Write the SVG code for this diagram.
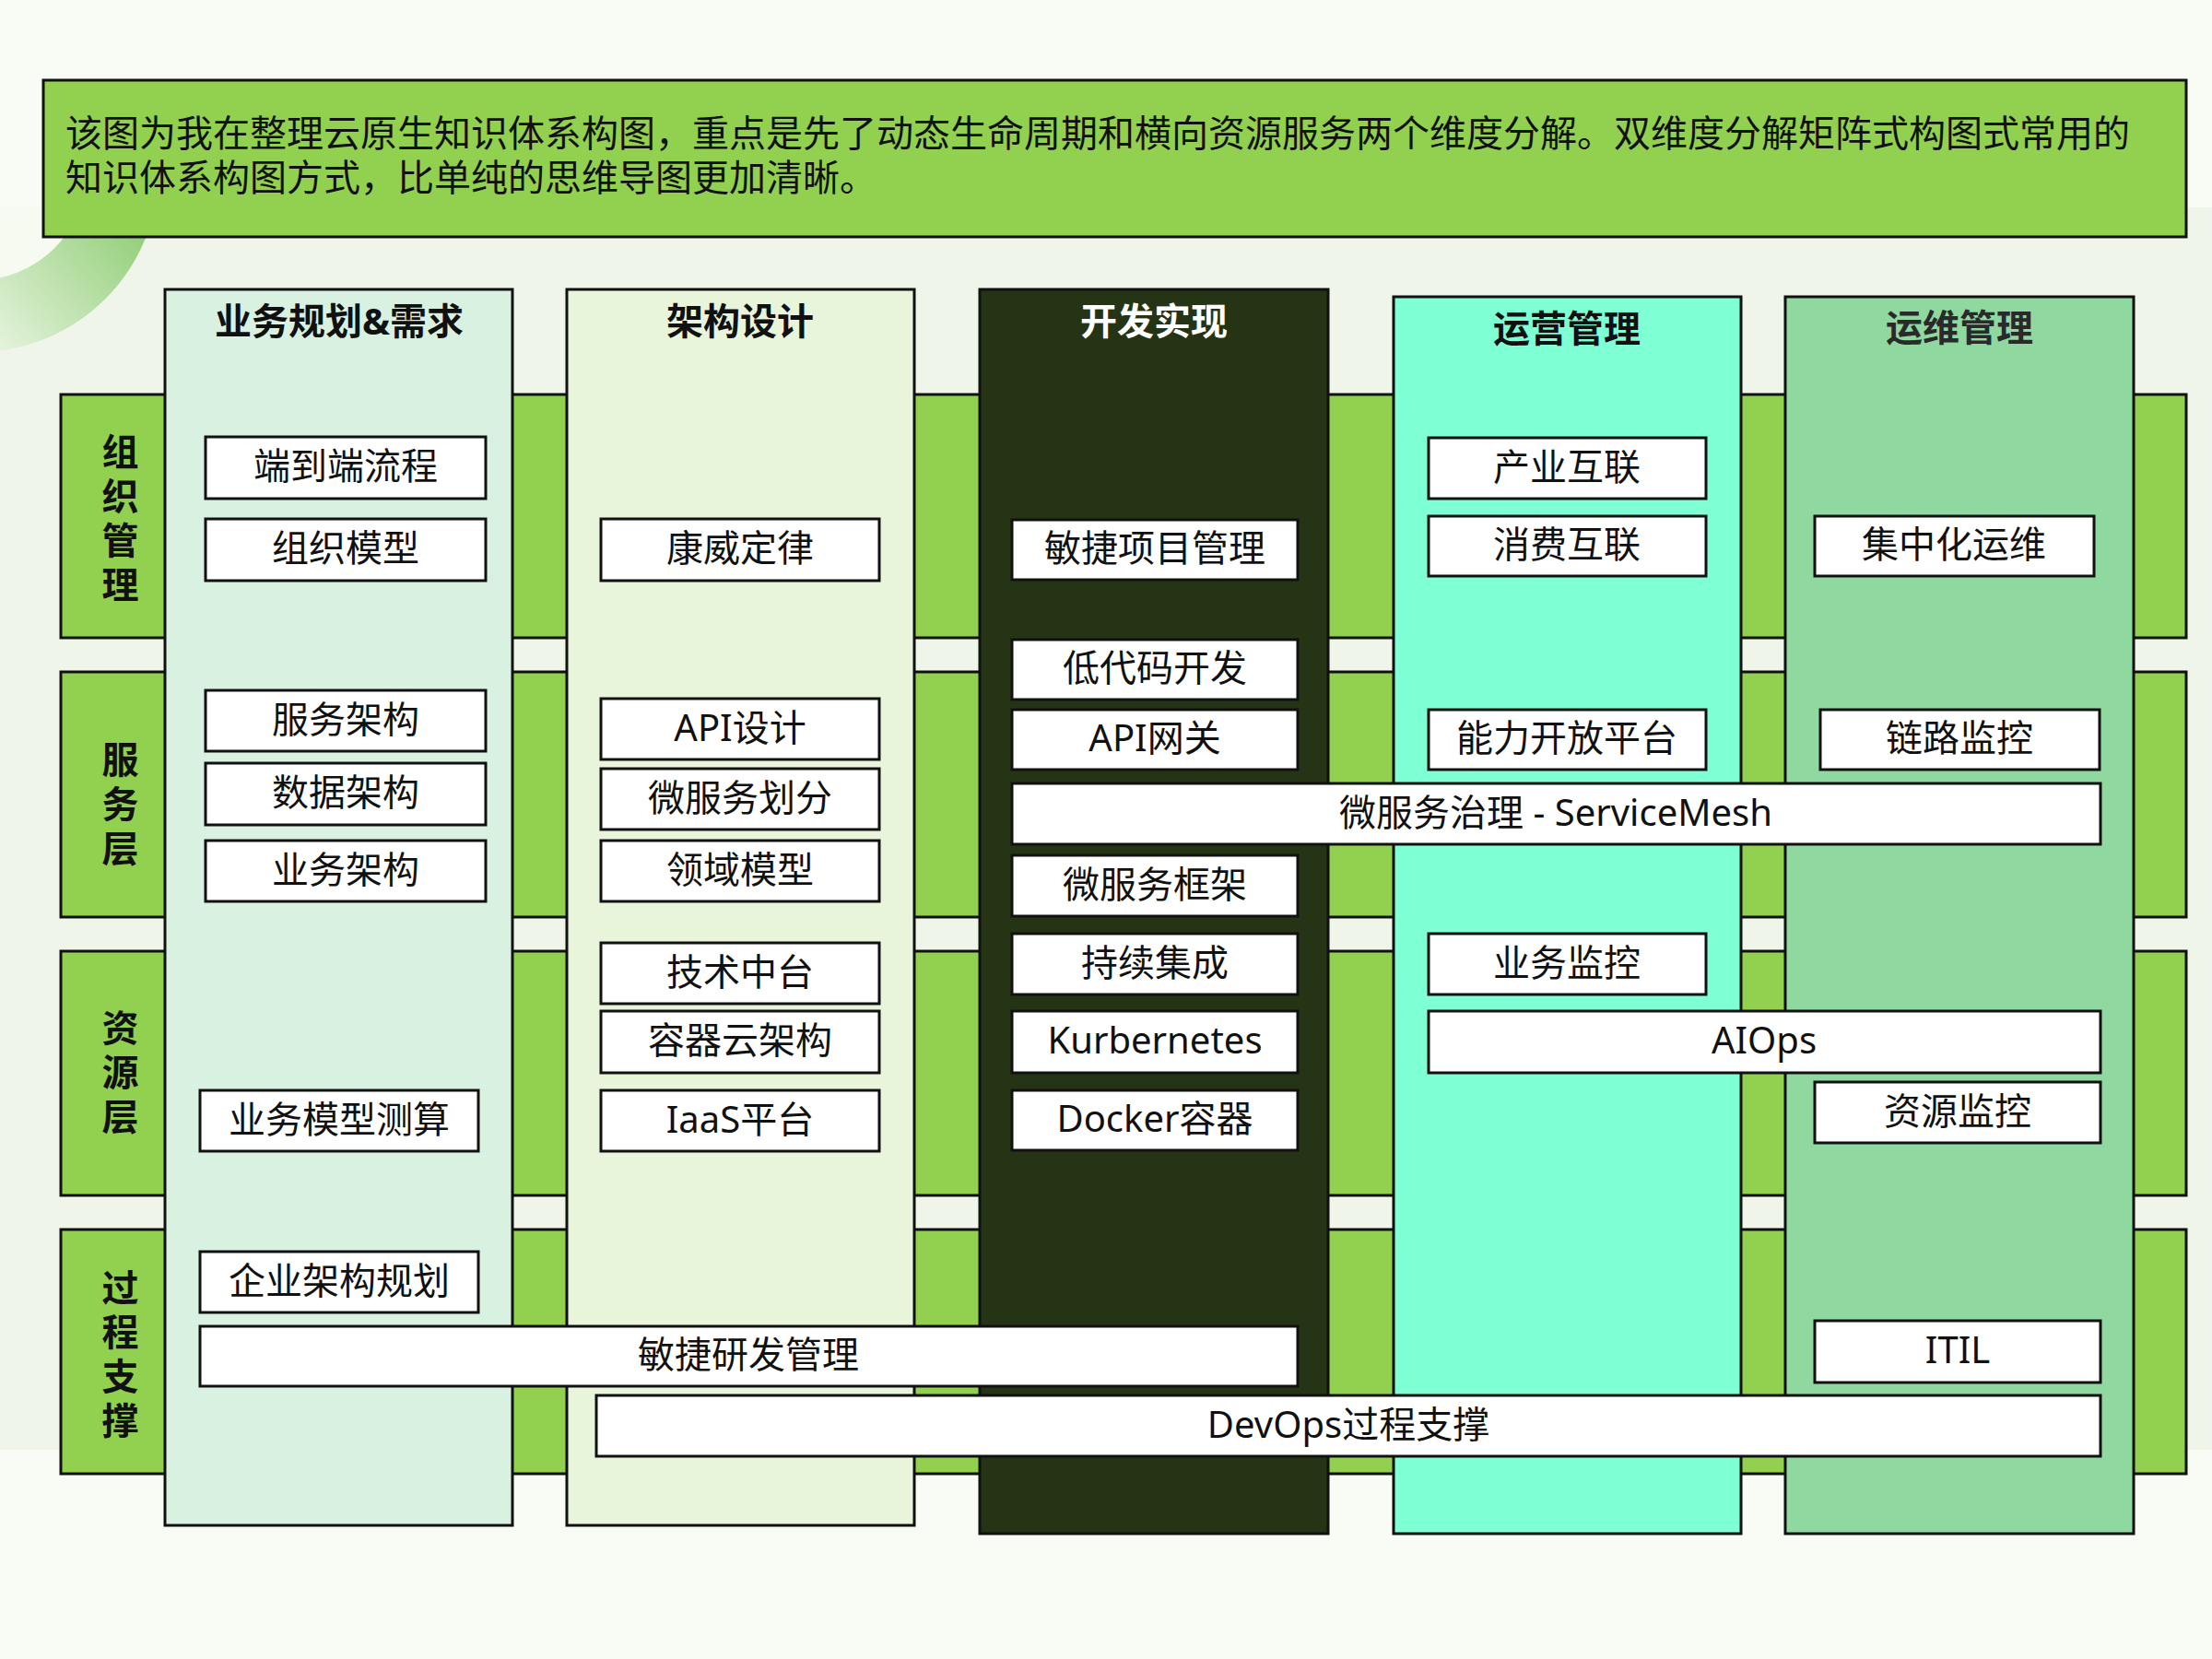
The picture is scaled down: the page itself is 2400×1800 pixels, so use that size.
<svg xmlns="http://www.w3.org/2000/svg" width="2400" height="1800" viewBox="0 0 2400 1800">
<style>
text{font-family:"Noto Sans","Noto Sans CJK SC",sans-serif;}
text.cjk{font-family:"Liberation Sans","Noto Sans CJK SC",sans-serif;}
.row{fill:#92d050;stroke:#111;stroke-width:3;}
.col{stroke:#111;stroke-width:3;}
.box{fill:#ffffff;stroke:#111;stroke-width:3;}
.t{font-size:40px;fill:#111;text-anchor:middle;dominant-baseline:central;}
.h{font-size:40px;font-weight:bold;text-anchor:middle;dominant-baseline:central;}
.lbl{font-size:40px;font-weight:bold;fill:#111;text-anchor:middle;writing-mode:vertical-rl;letter-spacing:8px;}
</style>
<defs>
<linearGradient id="ringGrad" gradientUnits="userSpaceOnUse" x1="170" y1="250" x2="0" y2="400">
<stop offset="0" stop-color="#8fcd74"/>
<stop offset="1" stop-color="#eaf5e3"/>
</linearGradient>
<clipPath id="band"><rect x="0" y="225" width="2400" height="1348"/></clipPath>
</defs>
<!-- background -->
<rect x="0" y="0" width="2400" height="1800" fill="#f9fbf5"/>
<rect x="0" y="225" width="2400" height="1348" fill="#eff6e9"/>
<g clip-path="url(#band)">
<circle cx="-25" cy="185" r="197" fill="url(#ringGrad)"/>
<circle cx="-25" cy="185" r="119" fill="#f6faf1"/>
<ellipse cx="2470" cy="1640" rx="110" ry="80" fill="#e1f0d6"/>
</g>

<g id="banner">
<rect x="47" y="87" width="2325" height="170" fill="#92d050" stroke="#111" stroke-width="3"/>
<text class="cjk" font-size="40" fill="#111" dominant-baseline="central"><tspan x="71" y="145">该图为我在整理云原生知识体系构图，重点是先了动态生命周期和横向资源服务两个维度分解。双维度分解矩阵式构图式常用的</tspan><tspan x="71" y="193">知识体系构图方式，比单纯的思维导图更加清晰。</tspan></text>
</g>

<!-- row bands -->
<g id="row-org">
<rect class="row" x="66" y="428" width="2306" height="264"/>
<text class="lbl" x="129" y="566">组织管理</text>
</g>
<g id="row-service">
<rect class="row" x="66" y="729" width="2306" height="266"/>
<text class="lbl" x="129" y="876">服务层</text>
</g>
<g id="row-resource">
<rect class="row" x="66" y="1032" width="2306" height="265"/>
<text class="lbl" x="129" y="1167">资源层</text>
</g>
<g id="row-process">
<rect class="row" x="66" y="1334" width="2306" height="265"/>
<text class="lbl" x="129" y="1473">过程支撑</text>
</g>

<!-- columns -->
<g id="col-biz">
<rect class="col" x="179" y="314" width="377" height="1341" fill="#d9f1e1"/>
<text class="h" x="368" y="347" fill="#111">业务规划&amp;需求</text>
</g>
<g id="col-arch">
<rect class="col" x="615" y="314" width="377" height="1341" fill="#e8f5db"/>
<text class="h" x="803" y="347" fill="#111">架构设计</text>
</g>
<g id="col-dev">
<rect class="col" x="1063" y="314" width="378" height="1350" fill="#243414"/>
<text class="h" x="1252" y="347" fill="#ffffff">开发实现</text>
</g>
<g id="col-ops">
<rect class="col" x="1512" y="322" width="377" height="1342" fill="#7effd4"/>
<text class="h" x="1700" y="355" fill="#111">运营管理</text>
</g>
<g id="col-devops">
<rect class="col" x="1937" y="322" width="378" height="1342" fill="#8fd9a0"/>
<text class="h" x="2126" y="354" fill="#2a2a2a">运维管理</text>
</g>

<!-- items column 1 -->
<g id="n-e2e"><rect class="box" x="223" y="474" width="304" height="67"/><text class="t" x="375" y="504">端到端流程</text></g>
<g id="n-orgmodel"><rect class="box" x="223" y="563" width="304" height="67"/><text class="t" x="375" y="593">组织模型</text></g>
<g id="n-svcarch"><rect class="box" x="223" y="749" width="304" height="66"/><text class="t" x="375" y="779">服务架构</text></g>
<g id="n-dataarch"><rect class="box" x="223" y="828" width="304" height="67"/><text class="t" x="375" y="858">数据架构</text></g>
<g id="n-bizarch"><rect class="box" x="223" y="912" width="304" height="66"/><text class="t" x="375" y="942">业务架构</text></g>
<g id="n-bizcalc"><rect class="box" x="217" y="1183" width="302" height="66"/><text class="t" x="368" y="1213">业务模型测算</text></g>
<g id="n-eaplan"><rect class="box" x="217" y="1358" width="302" height="66"/><text class="t" x="368" y="1388">企业架构规划</text></g>
<!-- items column 2 -->
<g id="n-conway"><rect class="box" x="652" y="563" width="302" height="67"/><text class="t" x="803" y="593">康威定律</text></g>
<g id="n-apidesign"><rect class="box" x="652" y="758" width="302" height="66"/><text class="t" x="803" y="788">API设计</text></g>
<g id="n-msdiv"><rect class="box" x="652" y="834" width="302" height="66"/><text class="t" x="803" y="864">微服务划分</text></g>
<g id="n-domain"><rect class="box" x="652" y="912" width="302" height="66"/><text class="t" x="803" y="942">领域模型</text></g>
<g id="n-techmid"><rect class="box" x="652" y="1023" width="302" height="66"/><text class="t" x="803" y="1053">技术中台</text></g>
<g id="n-cloudarch"><rect class="box" x="652" y="1097" width="302" height="67"/><text class="t" x="803" y="1127">容器云架构</text></g>
<g id="n-iaas"><rect class="box" x="652" y="1183" width="302" height="66"/><text class="t" x="803" y="1213">IaaS平台</text></g>
<!-- items column 3 -->
<g id="n-agilepm"><rect class="box" x="1098" y="564" width="310" height="65"/><text class="t" x="1253" y="593">敏捷项目管理</text></g>
<g id="n-lowcode"><rect class="box" x="1098" y="694" width="310" height="65"/><text class="t" x="1253" y="723">低代码开发</text></g>
<g id="n-apigw"><rect class="box" x="1098" y="770" width="310" height="65"/><text class="t" x="1253" y="799">API网关</text></g>
<g id="n-msfw"><rect class="box" x="1098" y="928" width="310" height="66"/><text class="t" x="1253" y="958">微服务框架</text></g>
<g id="n-ci"><rect class="box" x="1098" y="1013" width="310" height="66"/><text class="t" x="1253" y="1043">持续集成</text></g>
<g id="n-k8s"><rect class="box" x="1098" y="1097" width="310" height="67"/><text class="t" x="1253" y="1127">Kurbernetes</text></g>
<g id="n-docker"><rect class="box" x="1098" y="1183" width="310" height="65"/><text class="t" x="1253" y="1212">Docker容器</text></g>
<!-- items column 4 -->
<g id="n-industry"><rect class="box" x="1550" y="475" width="301" height="66"/><text class="t" x="1700" y="505">产业互联</text></g>
<g id="n-consumer"><rect class="box" x="1550" y="560" width="301" height="65"/><text class="t" x="1700" y="589">消费互联</text></g>
<g id="n-openplat"><rect class="box" x="1550" y="770" width="301" height="65"/><text class="t" x="1700" y="799">能力开放平台</text></g>
<g id="n-bizmon"><rect class="box" x="1550" y="1013" width="301" height="66"/><text class="t" x="1700" y="1043">业务监控</text></g>
<!-- items column 5 -->
<g id="n-centralops"><rect class="box" x="1969" y="560" width="303" height="65"/><text class="t" x="2120" y="589">集中化运维</text></g>
<g id="n-linkmon"><rect class="box" x="1975" y="770" width="303" height="65"/><text class="t" x="2126" y="799">链路监控</text></g>
<g id="n-resmon"><rect class="box" x="1969" y="1174" width="310" height="66"/><text class="t" x="2124" y="1204">资源监控</text></g>
<g id="n-itil"><rect class="box" x="1969" y="1433" width="310" height="67"/><text class="t" x="2124" y="1463">ITIL</text></g>
<!-- spanning items -->
<g id="n-servicemesh"><rect class="box" x="1098" y="850" width="1181" height="66"/><text class="t" x="1688" y="880">微服务治理 - ServiceMesh</text></g>
<g id="n-aiops"><rect class="box" x="1550" y="1097" width="729" height="67"/><text class="t" x="1914" y="1127">AIOps</text></g>
<g id="n-agiledev"><rect class="box" x="217" y="1439" width="1191" height="65"/><text class="t" x="812" y="1468">敏捷研发管理</text></g>
<g id="n-devops"><rect class="box" x="647" y="1514" width="1632" height="66"/><text class="t" x="1463" y="1544">DevOps过程支撑</text></g>

<g id="connectors"/>
</svg>
